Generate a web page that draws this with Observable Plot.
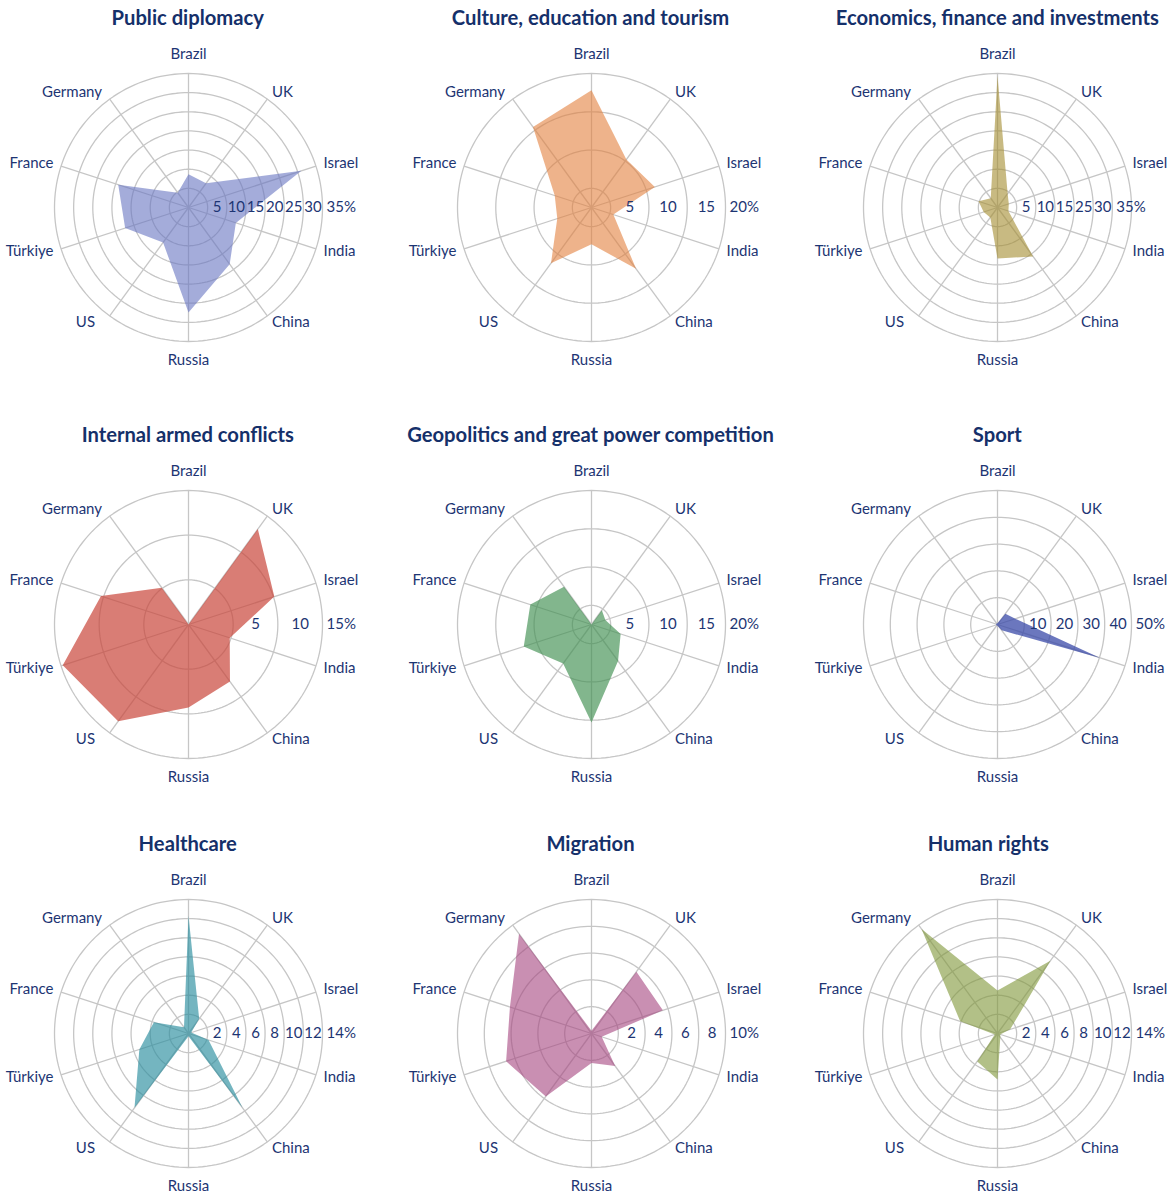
<!DOCTYPE html>
<html><head><meta charset="utf-8">
<script src="https://cdn.jsdelivr.net/npm/d3@7"></script>
<script src="https://cdn.jsdelivr.net/npm/@observablehq/plot@0.6"></script>
<style>
body{margin:0;background:#fff;overflow:hidden;font-family:Lato,"Noto Sans",sans-serif;}
#wrap{position:relative;width:1175px;height:1193px;overflow:hidden;}
.title{position:absolute;width:460px;text-align:center;font-weight:700;font-size:20.2px;line-height:24px;color:#15306a;white-space:nowrap;font-family:Lato,sans-serif;}
.chart{position:absolute;}
</style></head><body><div id="wrap"></div>
<script>
// ---- data ----
const countries = ["Brazil","UK","Israel","India","China","Russia","US","Türkiye","France","Germany"];
const titles = ["Public diplomacy","Culture, education and tourism","Economics, finance and investments",
  "Internal armed conflicts","Geopolitics and great power competition","Sport",
  "Healthcare","Migration","Human rights"];

const publicDiplomacy = [8.7, 7.8, 31, 13, 18.3, 27.4, 11.3, 17.4, 19.3, 4.8];
const culture         = [17.8, 10.25, 11.2, 5.5, 12.4, 7.3, 11.5, 7.2, 7.55, 15.5];
const economics       = [34.4, 4.5, 3.1, 3.0, 15.8, 13.3, 3.2, 3.8, 5.2, 3.0];
const armedConflicts  = [0, 13.2, 10.1, 4.85, 7.9, 9.3, 13.4, 14.8, 10.3, 5.1];
const geopolitics     = [2.5, 4.8, 4.4, 6.5, 8.4, 15.3, 8.8, 11.8, 10.9, 8.6];
const sport           = [0.5, 5, 7, 40.3, 2.7, 0.5, 0.5, 0.5, 0.5, 0.5];
const healthcare      = [12.3, 1.9, 0.3, 2.2, 9.6, 0.3, 9.6, 5.4, 3.8, 0.8];
const migration       = [0.2, 5.7, 5.6, 0.8, 3.0, 2.2, 5.8, 6.7, 6.4, 9.2];
const humanRights     = [4.5, 9.4, 1.4, 0.3, 0.5, 4.8, 3.6, 0.3, 4.1, 13.5];

// axis minimum / maximum per chart
const axisMin = [0, 2.5, 0, 0, 2.5, 0, 0, 0, 0];
const axisMax = [35, 20, 35, 15, 20, 50, 14, 10, 14];

// grid rings
const rings5to35 = [5,10,15,20,25,30,35];
const rings5to20 = [5,10,15,20];
const rings5to15 = [5,10,15];
const rings10to50 = [10,20,30,40,50];
const rings2to14 = [2,4,6,8,10,12,14];
const rings2to10 = [2,4,6,8,10];

// tick label positions (ring values) and texts
const tickPosPD = [5,10,15,20,25,30,35];  const tickTxtPD = ["5","10","15","20","25","30","35%"];
const tickPosCU = [5,10,15,20];           const tickTxtCU = ["5","10","15","20%"];
const tickPosEC = [5,10,15,20,25,30];     const tickTxtEC = ["5","10","15","25","30","35%"];
const tickPosAC = [5,10,15];              const tickTxtAC = ["5","10","15%"];
const tickPosGP = [5,10,15,20];           const tickTxtGP = ["5","10","15","20%"];
const tickPosSP = [10,20,30,40,50];       const tickTxtSP = ["10","20","30","40","50%"];
const tickPosHC = [2,4,6,8,10,12,14];     const tickTxtHC = ["2","4","6","8","10","12","14%"];
const tickPosMI = [2,4,6,8,10];           const tickTxtMI = ["2","4","6","8","10%"];
const tickPosHR = [2,4,6,8,10,12,14];     const tickTxtHR = ["2","4","6","8","10","12","14%"];

const colors = ["#6874c2","#e2803e","#a38c2f","#c9463a","#3f8f50","#3a4aa8","#2a8e9e","#a5457f","#7e9637"];
const opacities = [0.6, 0.6, 0.6, 0.7, 0.65, 0.75, 0.65, 0.6, 0.6];

// ---- assemble ----
const charts = [
  {values: publicDiplomacy, rings: rings5to35, tp: tickPosPD, tt: tickTxtPD},
  {values: culture, rings: rings5to20, tp: tickPosCU, tt: tickTxtCU},
  {values: economics, rings: rings5to35, tp: tickPosEC, tt: tickTxtEC},
  {values: armedConflicts, rings: rings5to15, tp: tickPosAC, tt: tickTxtAC},
  {values: geopolitics, rings: rings5to20, tp: tickPosGP, tt: tickTxtGP},
  {values: sport, rings: rings10to50, tp: tickPosSP, tt: tickTxtSP},
  {values: healthcare, rings: rings2to14, tp: tickPosHC, tt: tickTxtHC},
  {values: migration, rings: rings2to10, tp: tickPosMI, tt: tickTxtMI},
  {values: humanRights, rings: rings2to14, tp: tickPosHR, tt: tickTxtHR}
].map((c, i) => ({...c, title: titles[i], min: axisMin[i], max: axisMax[i], color: colors[i], opacity: opacities[i]}));

// ---- layout ----
const colX = [187.7, 590.5, 997.3];
const rowY = [206.5, 623.5, 1033];
const titleShift = [0, 0, 0, 0, 0, 0, 0, 0, -9];
const W = 392, H = 340, RADIUS = 134;
const gridColor = "#c6c6c6", textColor = "#1d3573";
const wrap = document.getElementById("wrap");

charts.forEach((c, k) => {
  const cx = colX[k % 3], cy = rowY[Math.floor(k / 3)];
  const r = d3.scaleLinear().domain([c.min, c.max]).range([0, RADIUS]).clamp(true);
  const ang = i => i * 2 * Math.PI / countries.length;

  const pts = countries.map((name, i) => ({name, v: c.values[i], a: ang(i)}));
  const ringData = c.rings.flatMap(v => d3.range(0, 361, 2).map(deg => ({ring: v, v, a: deg * Math.PI / 180})));
  const spokes = countries.map((name, i) => ({name, a: ang(i)}));
  const labels = countries.map((name, i) => {
    const a = ang(i), s = Math.sin(a);
    const anchor = Math.abs(s) < 0.01 ? "middle" : (s > 0 ? "start" : "end");
    const nudge = name === "US" ? -10 : (name === "Germany" ? -3 : 0);
    return {name, a, anchor, nudge, lr: anchor === "middle" ? RADIUS + 19 : RADIUS + 8};
  });
  const step = c.tp.length > 1 ? c.tp[1] - c.tp[0] : 0;
  const ticks = c.tp.map((p, i) => ({p, text: c.tt[i], last: i === c.tp.length - 1}));

  const plot = Plot.plot({
    width: W, height: H, margin: 0,
    x: {domain: [-W/2, W/2], axis: null},
    y: {domain: [-H/2, H/2], axis: null},
    style: {fontFamily: "Lato, sans-serif", overflow: "visible", background: "transparent"},
    marks: [
      Plot.line(ringData, {x: d => r(d.v) * Math.sin(d.a), y: d => r(d.v) * Math.cos(d.a), z: "ring",
        stroke: gridColor, strokeWidth: 1.3}),
      Plot.link(spokes, {x1: () => 0, y1: () => 0,
        x2: d => r(c.max) * Math.sin(d.a), y2: d => r(c.max) * Math.cos(d.a),
        stroke: gridColor, strokeWidth: 1.3}),
      Plot.line(pts, {x: d => r(d.v) * Math.sin(d.a), y: d => r(d.v) * Math.cos(d.a),
        curve: "linear-closed", fill: c.color, fillOpacity: c.opacity, stroke: "none"}),
      ...["start","end","middle"].map(an => Plot.text(labels.filter(d => d.anchor === an), {
        x: d => d.lr * Math.sin(d.a) + d.nudge, y: d => d.lr * Math.cos(d.a), text: "name",
        textAnchor: an, fontSize: 15, fill: textColor})),
      Plot.text(ticks.filter(d => !d.last), {x: d => r(d.p + step / 2), y: () => 0, text: "text",
        textAnchor: "middle", fontSize: 15, fill: textColor}),
      Plot.text(ticks.filter(d => d.last), {x: d => r(d.p) + 4, y: () => 0, text: "text",
        textAnchor: "start", fontSize: 15, fill: textColor})
    ]
  });
  plot.classList.add("chart");
  plot.style.left = (cx - W/2) + "px";
  plot.style.top = (cy - H/2) + "px";
  wrap.appendChild(plot);

  const t = document.createElement("div");
  t.className = "title";
  t.textContent = c.title;
  t.style.left = (cx - 230 + titleShift[k]) + "px";
  t.style.top = (cy - 202) + "px";
  wrap.appendChild(t);
});
</script></body></html>
